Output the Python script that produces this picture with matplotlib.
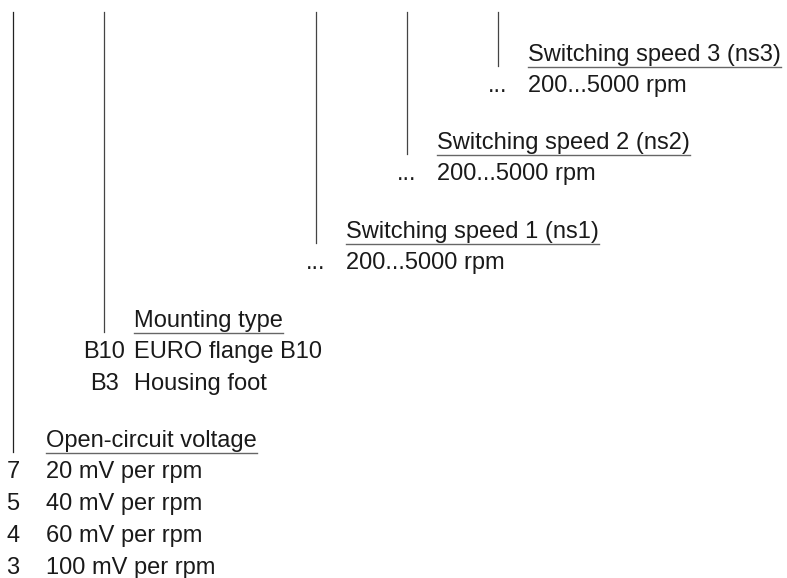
import matplotlib.pyplot as plt

# type code key: one level per position in the code
headers = ['Open-circuit voltage', 'Mounting type', 'Switching speed 1 (ns1)',
           'Switching speed 2 (ns2)', 'Switching speed 3 (ns3)']
codes = [['7', '5', '4', '3'], ['B10', 'B3'], ['...'], ['...'], ['...']]
options = [['20 mV per rpm', '40 mV per rpm', '60 mV per rpm', '100 mV per rpm'],
           ['EURO flange B10', 'Housing foot'],
           ['200...5000 rpm'], ['200...5000 rpm'], ['200...5000 rpm']]

# layout in pixels (origin top-left)
line_x = [13, 104, 316, 407, 498]
rule_y = [453, 333, 244, 155, 67]
top_y = 12
row_h = 32
fs = 17

plt.rcParams['font.family'] = ['Liberation Sans', 'DejaVu Sans']
fig = plt.figure(figsize=(7.87, 5.78), dpi=100)
ax = fig.add_axes([0, 0, 1, 1])
ax.set_xlim(0, 787)
ax.set_ylim(578, 0)
ax.axis('off')

fig.canvas.draw()
renderer = fig.canvas.get_renderer()
inv = ax.transData.inverted()

for i, head in enumerate(headers):
    x0 = line_x[i]
    y0 = rule_y[i]
    ax.plot([x0, x0], [top_y, y0 - 1], color='#222222' if i == 0 else '#444444', lw=0.9)
    hx = x0 + 33 if i == 0 else x0 + 30
    t = ax.text(hx, y0 - 6, head, fontsize=fs, color='#1a1a1a', va='baseline', ha='left')
    bb = t.get_window_extent(renderer)
    xb = inv.transform((bb.x1, 0))[0]
    ax.plot([hx, xb], [y0, y0], color='#666666', lw=1.0)
    for j, (c, o) in enumerate(zip(codes[i], options[i])):
        yb = y0 + 25 + j * row_h
        ax.text(x0, yb, c, fontsize=fs, color='#1a1a1a', va='baseline', ha='center')
        ax.text(hx, yb, o, fontsize=fs, color='#1a1a1a', va='baseline', ha='left')

fig.savefig('out.png', dpi=100)
